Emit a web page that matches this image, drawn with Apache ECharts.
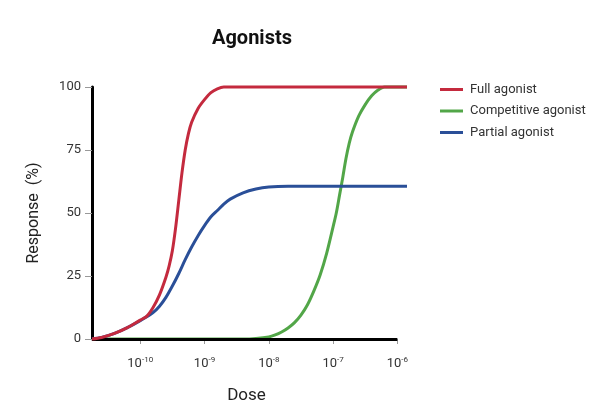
<!DOCTYPE html>
<html>
<head>
<meta charset="utf-8">
<script src="https://cdn.jsdelivr.net/npm/echarts@6/dist/echarts.min.js"></script>
<style>html,body{margin:0;padding:0;background:#fff;}#c{width:600px;height:400px;}</style>
</head>
<body>
<div id="c"></div>
<script>
// log10(dose) values and responses (%)
const fullX = [-10.75,-10.6,-10.4,-10.2,-10.0,-9.9,-9.8,-9.7,-9.6,-9.55,-9.5,-9.45,-9.4,-9.35,-9.3,-9.25,-9.2,-9.1,-9.0,-8.9,-8.8,-8.7,-5.85];
const fullY = [0,0.6,2.2,4.5,7.5,9,12.5,17.5,24.5,29,35,44,55,66,75,81.5,86,91.5,95,97.8,99.3,100,100];

const compX = [-10.75,-8.4,-8.2,-8.0,-7.9,-7.8,-7.7,-7.6,-7.5,-7.4,-7.3,-7.2,-7.1,-7.0,-6.95,-6.9,-6.85,-6.8,-6.75,-6.7,-6.6,-6.5,-6.4,-6.3,-6.2,-5.85];
const compY = [0,0,0.2,0.8,1.6,2.8,4.4,6.5,9.5,13.5,19,25.5,34,44.5,50,57,64,71.5,77.5,82,88.5,93,96.5,98.8,100,100];

const partX = [-10.75,-10.6,-10.4,-10.2,-10.0,-9.8,-9.7,-9.6,-9.5,-9.4,-9.3,-9.2,-9.1,-9.0,-8.9,-8.8,-8.7,-8.6,-8.4,-8.2,-8.0,-7.7,-5.85];
const partY = [0,0.6,2.2,4.5,7.3,10.5,13,16.5,21,26,31.5,36.5,41,45,48.5,51,53.5,55.5,58,59.5,60.3,60.6,60.6];

const seriesNames = ['Full agonist','Competitive agonist','Partial agonist'];
const colors = ['#c42a3e','#52a648','#2a4f98'];
const xTicks = [-10,-9,-8,-7,-6];
const xMin = -10.75, xAxisEnd = -6, xMax = -5.85;

function pairs(xs, ys){ return xs.map((x,i)=>[x, ys[i]]); }

const chart = echarts.init(document.getElementById('c'), null, {renderer:'canvas', width:600, height:400});
const mk = (name, xs, ys, color, z) => ({
  name, type:'line', data: pairs(xs, ys), showSymbol:false, symbol:'none',
  smooth:0.3, clip:false, z,
  lineStyle:{color, width:3}, itemStyle:{color}
});
const s0 = mk(seriesNames[0], fullX, fullY, colors[0], 5);
const s1 = mk(seriesNames[1], compX, compY, colors[1], 3);
const s2 = mk(seriesNames[2], partX, partY, colors[2], 4);
s1.markLine = {
  silent:true, symbol:['none','none'], label:{show:false}, animation:false,
  lineStyle:{color:'#000', width:3, type:'solid'},
  data:[[{coord:[xMin,0]},{coord:[xAxisEnd,0]}]]
};

chart.setOption({
  animation:false,
  backgroundColor:'#fff',
  title:{text:'Agonists', left:212, top:29, padding:0,
    textStyle:{fontSize:20, fontWeight:'bold', color:'#111', fontFamily:'Roboto'}},
  legend:{
    orient:'vertical', left:440, top:83, padding:0, itemWidth:23, itemHeight:3, itemGap:8.5,
    icon:'rect', data:seriesNames,
    textStyle:{fontSize:13, color:'#333', fontFamily:'Roboto', padding:[0,0,0,2]}
  },
  grid:{left:92, right:193, top:87, bottom:61, containLabel:false, outerBoundsMode:'none'},
  xAxis:{
    type:'value', min:xMin, max:xMax,
    axisLine:{show:false},
    splitLine:{show:false},
    axisTick:{show:true, customValues:xTicks, length:5, lineStyle:{color:'#999', width:1}},
    axisLabel:{
      customValues:xTicks, margin:17, color:'#333', fontFamily:'Roboto',
      formatter:v=>'{b|10}{s|' + v + '}',
      rich:{b:{fontSize:13, color:'#333', fontFamily:'Roboto'},
            s:{fontSize:8, color:'#333', fontFamily:'Roboto', verticalAlign:'top', padding:[0,0,7,0]}}
    },
    name:'Dose', nameLocation:'middle', nameGap:48,
    nameTextStyle:{fontSize:17, color:'#222', fontFamily:'Roboto', padding:[0,6,0,0]}
  },
  yAxis:{
    type:'value', min:0, max:100, interval:25,
    axisLine:{show:true, lineStyle:{color:'#000', width:3}},
    splitLine:{show:false},
    axisTick:{show:true, length:7, lineStyle:{color:'#999', width:1}},
    axisLabel:{margin:11, fontSize:13, color:'#333', fontFamily:'Roboto'},
    name:'Response  (%)', nameLocation:'middle', nameGap:50,
    nameTextStyle:{fontSize:16, color:'#222', fontFamily:'Roboto'}
  },
  series:[s0, s1, s2]
});
</script>
</body>
</html>
